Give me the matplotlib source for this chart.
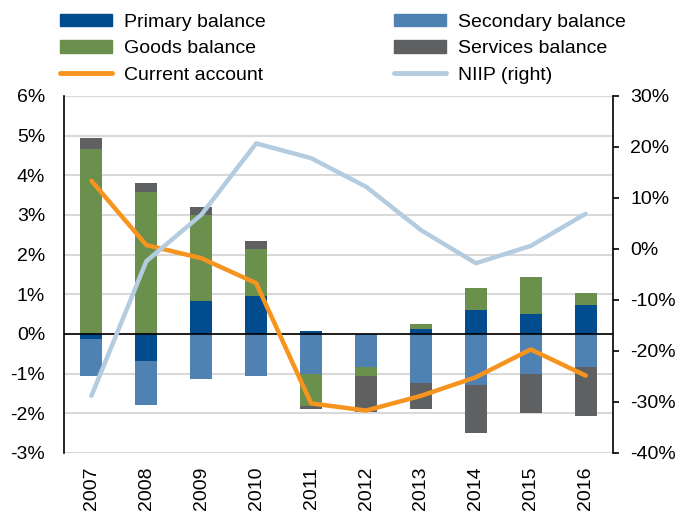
import numpy as np
import matplotlib
matplotlib.use("Agg")
import matplotlib.pyplot as plt
from matplotlib.patches import Patch
from matplotlib.lines import Line2D

plt.rcParams['font.family'] = ['Liberation Sans', 'DejaVu Sans']

years = ['2007', '2008', '2009', '2010', '2011', '2012', '2013', '2014', '2015', '2016']
primary = [-0.12, -0.68, 0.84, 0.96, 0.08, 0.0, 0.13, 0.60, 0.50, 0.73]
secondary = [-0.94, -1.12, -1.14, -1.05, -1.02, -0.84, -1.23, -1.29, -1.00, -0.84]
goods = [4.67, 3.57, 2.15, 1.17, -0.80, -0.21, 0.11, 0.57, 0.94, 0.29]
services = [0.28, 0.23, 0.20, 0.22, -0.08, -0.91, -0.65, -1.21, -0.98, -1.24]
current_account = [3.86, 2.24, 1.91, 1.28, -1.75, -1.93, -1.56, -1.09, -0.39, -1.05]
niip = [-28.8, -2.4, 6.7, 20.7, 17.8, 12.2, 3.7, -2.8, 0.6, 6.9]

c_primary = '#004C8F'
c_secondary = '#4F81B2'
c_goods = '#6B8F4C'
c_services = '#5F6062'
c_ca = '#F7941E'
c_niip = '#B4CCE0'

fs = 14

fig = plt.figure(figsize=(6.83, 5.13), dpi=100)
ax = fig.add_axes([0.0937, 0.117, 0.804, 0.696])
x = np.arange(len(years))

# stack positives upward and negatives downward
pos = np.zeros(len(years))
neg = np.zeros(len(years))
for vals, col in [(primary, c_primary), (secondary, c_secondary),
                  (goods, c_goods), (services, c_services)]:
    v = np.array(vals)
    bottom = np.where(v >= 0, pos, neg)
    ax.bar(x, v, 0.4, bottom=bottom, color=col, zorder=2)
    pos = pos + np.where(v >= 0, v, 0)
    neg = neg + np.where(v < 0, v, 0)

ax.plot(x, current_account, color=c_ca, lw=3.2, zorder=4, solid_capstyle='round')
ax.axhline(0, color='black', lw=1.2, zorder=3)

ax.set_ylim(-3, 6)
ax.set_yticks(range(-3, 7))
ax.set_yticklabels([f'{t}%' for t in range(-3, 7)], fontsize=fs)
ax.set_xlim(-0.5, len(years) - 0.5)
ax.set_xticks(x)
ax.set_xticklabels(years, rotation=90, fontsize=fs)
ax.tick_params(axis='y', length=0, pad=13.5)
ax.tick_params(axis='x', length=0, pad=10)
ax.grid(axis='y', color='#D9D9D9', lw=1.5, zorder=0)
ax.set_axisbelow(True)
for s in ['top', 'right', 'bottom']:
    ax.spines[s].set_visible(False)
ax.spines['left'].set_linewidth(1.2)

ax2 = ax.twinx()
ax2.plot(x, niip, color=c_niip, lw=3.2, zorder=3, solid_capstyle='round')
ax2.set_ylim(-40, 30)
ax2.set_yticks(range(-40, 31, 10))
ax2.set_yticklabels([f'{t}%' for t in range(-40, 31, 10)], fontsize=fs)
ax2.tick_params(axis='y', direction='out', length=4.5, width=1.2, pad=8)
for s in ['top', 'left', 'bottom']:
    ax2.spines[s].set_visible(False)
ax2.spines['right'].set_linewidth(1.2)

handles = [Patch(color=c_primary), Patch(color=c_goods),
           Line2D([], [], color=c_ca, lw=3.5, solid_capstyle='round'),
           Patch(color=c_secondary), Patch(color=c_services),
           Line2D([], [], color=c_niip, lw=3.5, solid_capstyle='round')]
labels = ['Primary balance', 'Goods balance', 'Current account',
          'Secondary balance', 'Services balance', 'NIIP (right)']
fig.legend(handles, labels, ncol=2, frameon=False, fontsize=fs,
           loc='upper left', bbox_to_anchor=(60 / 683, 0.973),
           borderpad=0, borderaxespad=0,
           handlelength=2.68, handleheight=0.62, columnspacing=6.6,
           labelspacing=0.48, handletextpad=0.62)

fig.savefig('out.png', dpi=100)
